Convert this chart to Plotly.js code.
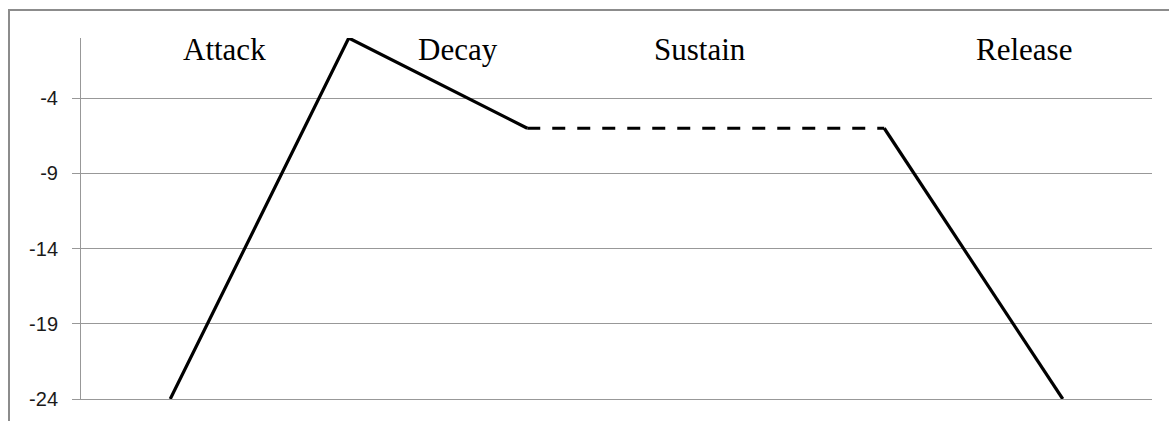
<!DOCTYPE html>
<html>
<head>
<meta charset="utf-8">
<script src="https://cdn.plot.ly/plotly-3.0.1.min.js"></script>
<style>
  html, body { margin: 0; padding: 0; background: #fff; overflow: hidden; }
  #wrap { position: relative; width: 1169px; height: 421px; overflow: hidden; }
  #chart { position: absolute; left: 0; top: 0; width: 1169px; height: 421px; }
  #frame { position: absolute; left: 8px; top: 9px; width: 1400px; height: 800px;
           border: 2px solid #8c8c8c; box-sizing: border-box; pointer-events: none; }
</style>
</head>
<body>
<div id="wrap">
  <div id="chart"></div>
  <div id="frame"></div>
</div>
<script>
// ---- data ----
const steps = [1, 2, 3, 4, 5, 6];
const levels = [-24, 0, -6, -6, -6, -24];
const phaseLabels = ['Attack', 'Decay', 'Sustain', 'Release'];
const yTicks = [-24, -19, -14, -9, -4];

// segments: [startIndex, endIndex, dash]
const segments = [
  [0, 2, 'solid'],
  [2, 4, '13px,12px'],
  [4, 5, 'solid']
];

const traces = segments.map(([a, b, dash]) => ({
  x: steps.slice(a, b + 1),
  y: levels.slice(a, b + 1),
  type: 'scatter',
  mode: 'lines',
  cliponaxis: false,
  line: { color: '#000000', width: 3.2, dash: dash },
  hoverinfo: 'skip',
  showlegend: false
}));

// label positions (paper coords)
const labelX = [0.1342, 0.3524, 0.5784, 0.8805];
const annotations = phaseLabels.map((t, i) => ({
  text: t,
  xref: 'paper', yref: 'paper',
  x: labelX[i], y: 0.9695,
  xanchor: 'center', yanchor: 'middle',
  showarrow: false,
  font: { family: '"Liberation Serif", "Times New Roman", serif', size: 31, color: '#000' }
}));

const layout = {
  width: 1169, height: 421,
  margin: { l: 81, r: 17, t: 38, b: 22, pad: 0 },
  paper_bgcolor: 'rgba(0,0,0,0)',
  plot_bgcolor: 'rgba(0,0,0,0)',
  showlegend: false,
  xaxis: {
    range: [0.5, 6.5],
    showgrid: false, zeroline: false,
    showticklabels: false, ticks: '',
    showline: true, linecolor: '#989898', linewidth: 1
  },
  yaxis: {
    range: [-24, 0],
    tickvals: yTicks,
    ticktext: yTicks.map(String),
    showgrid: true, gridcolor: '#989898', gridwidth: 1,
    zeroline: false,
    showline: true, linecolor: '#989898', linewidth: 1,
    ticks: 'outside', ticklen: 8, tickcolor: '#989898', tickwidth: 1,
    ticklabelstandoff: 10,
    tickfont: { family: '"Liberation Sans", Arial, sans-serif', size: 20, color: '#1a1a1a' }
  },
  annotations: annotations
};

Plotly.newPlot('chart', traces, layout, { staticPlot: true, displayModeBar: false });
</script>
</body>
</html>
